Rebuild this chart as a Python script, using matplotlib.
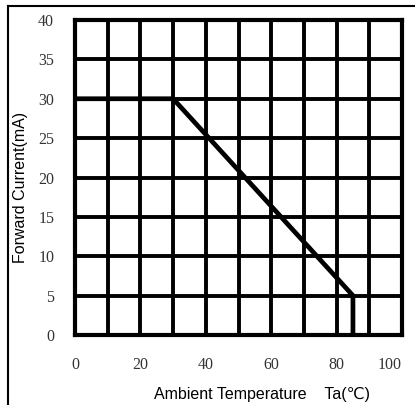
import matplotlib
matplotlib.use("Agg")
import matplotlib.pyplot as plt
from matplotlib.lines import Line2D

temp = [0, 30, 85, 85]
current = [30, 30, 5, 0]
xticks = [0, 20, 40, 60, 80, 100]
yticks = [0, 5, 10, 15, 20, 25, 30, 35, 40]

W, H = 415, 405
fig = plt.figure(figsize=(W / 100, H / 100), dpi=100)
ax = fig.add_axes([75 / W, 1 - 335 / H, 327 / W, 315 / H])
ax.set_xlim(0, 100)
ax.set_ylim(0, 40)

ax.set_xticks(range(0, 101, 10), minor=True)
ax.set_xticks(xticks)
ax.set_yticks(yticks)
ax.grid(True, which='both', axis='x', color='black', lw=2.8)
ax.grid(True, which='major', axis='y', color='black', lw=2.8)
ax.tick_params(which='both', length=0)
ax.tick_params(axis='x', pad=16)
ax.tick_params(axis='y', pad=15)
for lab in ax.get_xticklabels() + ax.get_yticklabels():
    lab.set_fontfamily('Liberation Serif')
    lab.set_fontsize(11.5)
    lab.set_color('#333333')
ax.get_xticklabels()[-1].set_horizontalalignment('right')
for s in ax.spines.values():
    s.set_linewidth(3)

ax.plot(temp, current, color='black', lw=3.4, solid_joinstyle='miter', zorder=5)

ax.set_xlabel('Ambient Temperature    Ta(℃)',
              fontfamily=['Liberation Sans', 'DejaVu Sans', 'Noto Sans CJK SC'],
              fontsize=11.5, va='center')
ax.xaxis.set_label_coords(0.572, -0.19)
ax.set_ylabel('Forward Current(mA)', fontfamily=['Liberation Sans', 'DejaVu Sans'],
              fontsize=11.5, va='center')
ax.yaxis.set_label_coords(-0.166, 0.467)

# outer frame
fig.add_artist(Line2D([8 / W, 8 / W], [0, 1 - 6 / H], transform=fig.transFigure,
                      color='black', lw=1.5))
fig.add_artist(Line2D([8 / W, 1], [1 - 6 / H, 1 - 6 / H], transform=fig.transFigure,
                      color='black', lw=1.5))

fig.savefig('out.png', dpi=100)
